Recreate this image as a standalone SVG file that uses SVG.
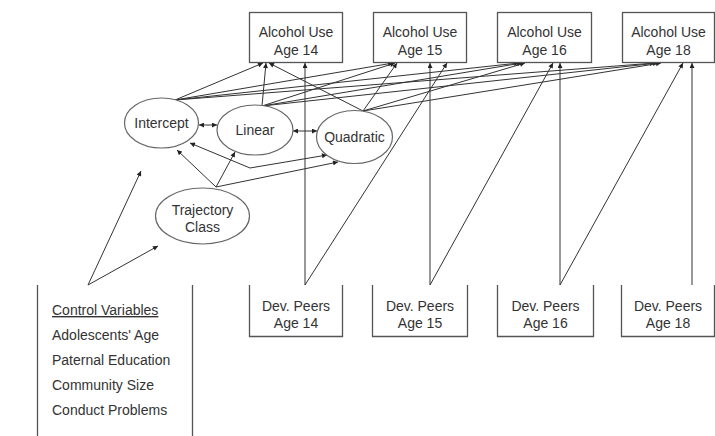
<svg xmlns="http://www.w3.org/2000/svg" width="715" height="436" viewBox="0 0 715 436">
  <style>
    .box { fill: #fff; stroke: #555; stroke-width: 1.3; }
    .open { fill: none; stroke: #555; stroke-width: 1.3; }
    .ell { fill: #fff; stroke: #666; stroke-width: 1.2; }
    .lbl { font-family: "Liberation Sans", Arial, sans-serif; font-size: 14px; fill: #333; text-anchor: middle; }
    .lst { font-family: "Liberation Sans", Arial, sans-serif; font-size: 14px; fill: #333; }
    .edge { fill: none; stroke: #333; stroke-width: 1; }
    .arr { marker-end: url(#ah); }
    .both { marker-start: url(#ahs); marker-end: url(#ah); }
  </style>
  <defs>
    <marker id="ah" viewBox="0 0 10 10" refX="10" refY="5" markerWidth="6" markerHeight="5" markerUnits="userSpaceOnUse" orient="auto">
      <path d="M0,0 L10,5 L0,10 z" fill="#222"/>
    </marker>
    <marker id="ahs" viewBox="0 0 10 10" refX="0" refY="5" markerWidth="6" markerHeight="5" markerUnits="userSpaceOnUse" orient="auto">
      <path d="M10,0 L0,5 L10,10 z" fill="#222"/>
    </marker>
  </defs>
  <rect width="715" height="436" fill="#fff"/>

  <!-- connectors -->
  <g id="connectors" class="edge">
    <!-- intercept to alcohol use -->
    <line class="arr" x1="175" y1="100" x2="263" y2="63"/>
    <line class="arr" x1="175" y1="100" x2="393" y2="63"/>
    <line class="arr" x1="175" y1="100" x2="519" y2="63"/>
    <line class="arr" x1="175" y1="100" x2="655" y2="63"/>
    <!-- linear to alcohol use -->
    <line class="arr" x1="262" y1="106" x2="266" y2="63"/>
    <line class="arr" x1="262" y1="106" x2="395" y2="63"/>
    <line class="arr" x1="262" y1="106" x2="522" y2="63"/>
    <line class="arr" x1="262" y1="106" x2="658" y2="63"/>
    <!-- quadratic to alcohol use -->
    <line class="arr" x1="363" y1="111" x2="269" y2="63"/>
    <line class="arr" x1="363" y1="111" x2="397" y2="63"/>
    <line class="arr" x1="363" y1="111" x2="525" y2="63"/>
    <line class="arr" x1="363" y1="111" x2="661" y2="63"/>
    <!-- deviant peers to alcohol use -->
    <line class="arr" x1="305" y1="285" x2="305" y2="63"/>
    <line class="arr" x1="305" y1="285" x2="447" y2="63"/>
    <line class="arr" x1="430" y1="285" x2="430" y2="63"/>
    <line class="arr" x1="430" y1="285" x2="553" y2="63"/>
    <line class="arr" x1="560" y1="285" x2="560" y2="63"/>
    <line class="arr" x1="560" y1="285" x2="683" y2="63"/>
    <line class="arr" x1="692" y1="285" x2="692" y2="63"/>
    <!-- growth factor covariances -->
    <line class="both" x1="199" y1="125" x2="217" y2="125"/>
    <line class="both" x1="293" y1="131" x2="317" y2="131"/>
    <polyline class="both" points="190,143 250,168 327,155"/>
    <!-- trajectory class to growth factors -->
    <line class="arr" x1="216" y1="187" x2="177" y2="150"/>
    <line class="arr" x1="216" y1="187" x2="235" y2="152"/>
    <line class="arr" x1="216" y1="187" x2="338" y2="162"/>
    <!-- control variables -->
    <line class="arr" x1="88" y1="285" x2="141" y2="171"/>
    <line class="arr" x1="88" y1="285" x2="158" y2="246"/>
  </g>

  <!-- alcohol use outcomes -->
  <g id="alc14"><rect class="box" x="249.5" y="12.5" width="93" height="50"/><text class="lbl" x="296" y="37">Alcohol Use</text><text class="lbl" x="296" y="55">Age 14</text></g>
  <g id="alc15"><rect class="box" x="373.5" y="12.5" width="93" height="50"/><text class="lbl" x="420" y="37">Alcohol Use</text><text class="lbl" x="420" y="55">Age 15</text></g>
  <g id="alc16"><rect class="box" x="497.5" y="12.5" width="94" height="50"/><text class="lbl" x="544.5" y="37">Alcohol Use</text><text class="lbl" x="544.5" y="55">Age 16</text></g>
  <g id="alc18"><rect class="box" x="622.5" y="12.5" width="92" height="50"/><text class="lbl" x="668.5" y="37">Alcohol Use</text><text class="lbl" x="668.5" y="55">Age 18</text></g>

  <!-- latent growth factors -->
  <g id="intercept"><ellipse class="ell" cx="161.5" cy="123" rx="37" ry="25"/><text class="lbl" x="161.5" y="128">Intercept</text></g>
  <g id="linear"><ellipse class="ell" cx="255" cy="130" rx="38" ry="25"/><text class="lbl" x="255" y="135">Linear</text></g>
  <g id="quadratic"><ellipse class="ell" cx="354.5" cy="137" rx="38" ry="26.5"/><text class="lbl" x="354.5" y="142">Quadratic</text></g>
  <g id="trajectory"><ellipse class="ell" cx="202.5" cy="216" rx="47" ry="28"/><text class="lbl" x="202.5" y="215">Trajectory</text><text class="lbl" x="202.5" y="232">Class</text></g>

  <!-- deviant peers -->
  <g id="peers14"><polyline class="open" points="249.5,285 249.5,336.5 342.5,336.5 342.5,285"/><text class="lbl" x="296" y="311">Dev. Peers</text><text class="lbl" x="296" y="328">Age 14</text></g>
  <g id="peers15"><polyline class="open" points="372.5,285 372.5,336.5 467.5,336.5 467.5,285"/><text class="lbl" x="420" y="311">Dev. Peers</text><text class="lbl" x="420" y="328">Age 15</text></g>
  <g id="peers16"><polyline class="open" points="497.5,285 497.5,336.5 593.5,336.5 593.5,285"/><text class="lbl" x="545.5" y="311">Dev. Peers</text><text class="lbl" x="545.5" y="328">Age 16</text></g>
  <g id="peers18"><polyline class="open" points="621.5,285 621.5,336.5 714.5,336.5 714.5,285"/><text class="lbl" x="668" y="311">Dev. Peers</text><text class="lbl" x="668" y="328">Age 18</text></g>

  <!-- control variables -->
  <g id="controls">
    <line class="open" x1="37.5" y1="285" x2="37.5" y2="436"/>
    <line class="open" x1="192.5" y1="285" x2="192.5" y2="436"/>
    <text class="lst" x="52" y="315" text-decoration="underline">Control Variables</text>
    <text class="lst" x="52" y="340">Adolescents' Age</text>
    <text class="lst" x="52" y="365">Paternal Education</text>
    <text class="lst" x="52" y="390">Community Size</text>
    <text class="lst" x="52" y="415">Conduct Problems</text>
  </g>
</svg>
